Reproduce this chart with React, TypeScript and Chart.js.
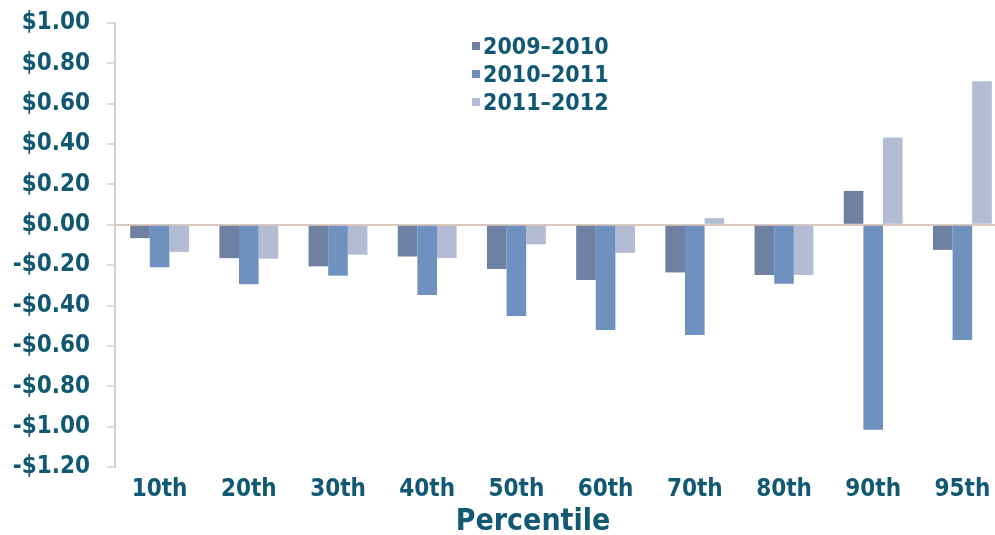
import React, { useEffect, useRef } from "react";
import { Chart, registerables } from "chart.js";

Chart.register(...registerables);

const categories = ["10th", "20th", "30th", "40th", "50th", "60th", "70th", "80th", "90th", "95th"];
const seriesNames = ["2009\u20132010", "2010\u20132011", "2011\u20132012"];
const values0910 = [-0.066, -0.165, -0.206, -0.157, -0.219, -0.274, -0.236, -0.249, 0.168, -0.124];
const values1011 = [-0.21, -0.294, -0.252, -0.348, -0.452, -0.521, -0.546, -0.292, -1.016, -0.571];
const values1112 = [-0.134, -0.168, -0.148, -0.165, -0.097, -0.139, 0.033, -0.249, 0.433, 0.711];
const colors = ["#6e81a3", "#6f91bf", "#b4bcd3"];
const axisTitle = "Percentile";

const FONT = "'DejaVu Sans Condensed', 'DejaVu Sans', sans-serif";
const TEXT = "#115873";

function fmt(v: number): string {
  const r = Math.round(v * 100) / 100;
  if (r < 0) return "-$" + Math.abs(r).toFixed(2);
  return "$" + r.toFixed(2);
}

const titlePlugin = {
  id: "xTitle",
  afterDraw(chart: any) {
    const ctx = chart.ctx;
    ctx.save();
    ctx.font = `bold 30px ${FONT}`;
    ctx.fillStyle = TEXT;
    ctx.textAlign = "center";
    ctx.textBaseline = "middle";
    ctx.fillText(axisTitle, 533, 522);
    ctx.restore();
  },
};

export default function App() {
  const ref = useRef<HTMLCanvasElement | null>(null);

  useEffect(() => {
    if (!ref.current) return;
    const chart = new Chart(ref.current, {
      type: "bar",
      data: {
        labels: categories,
        datasets: [values0910, values1011, values1112].map((d, i) => ({
          label: seriesNames[i],
          data: d,
          backgroundColor: colors[i],
          borderWidth: 0,
          barPercentage: 1,
          categoryPercentage: 0.66,
        })),
      },
      options: {
        animation: false,
        responsive: false,
        maintainAspectRatio: false,
        layout: { padding: { top: 23, right: 3, left: 0, bottom: 0 } },
        plugins: { legend: { display: false }, tooltip: { enabled: false } },
        scales: {
          x: {
            offset: true,
            grid: { display: false, drawTicks: false },
            border: { display: false },
            ticks: {
              color: TEXT,
              font: { family: FONT, size: 24, weight: "bold" },
              padding: 8,
              maxRotation: 0,
              autoSkip: false,
            },
            afterFit: (s: any) => {
              s.height = 68;
              s.paddingLeft = 0;
              s.paddingRight = 0;
            },
          },
          y: {
            min: -1.2,
            max: 1.0,
            grid: {
              drawOnChartArea: true,
              color: (ctx: any) =>
                ctx.tick && Math.abs(ctx.tick.value) < 1e-9 ? "#d9c8bd" : "rgba(0,0,0,0)",
              lineWidth: 2,
              tickColor: "#dcdcdc",
              tickLength: 8,
              drawTicks: true,
            },
            border: { display: true, color: "#d6ceca", width: 2 },
            ticks: {
              stepSize: 0.2,
              color: TEXT,
              font: { family: FONT, size: 24, weight: "bold" },
              padding: 17,
              callback: (v: any) => fmt(Number(v)),
            },
            afterFit: (s: any) => {
              s.width = 115;
              s.paddingTop = 0;
              s.paddingBottom = 0;
            },
          },
        },
      },
      plugins: [titlePlugin],
    });
    return () => chart.destroy();
  }, []);

  const legendTops = [46, 74, 102];

  return (
    <div
      style={{
        position: "absolute",
        left: 0,
        top: 0,
        width: 995,
        height: 535,
        overflow: "hidden",
        background: "#fff",
      }}
    >
      <canvas ref={ref} width={1010} height={535} style={{ display: "block" }} />
      {seriesNames.map((name, i) => (
        <div
          key={name}
          style={{
            position: "absolute",
            left: 472,
            top: legendTops[i] - 14,
            height: 28,
            display: "flex",
            alignItems: "center",
            fontFamily: FONT,
            fontWeight: "bold",
            fontSize: 23,
            color: TEXT,
            whiteSpace: "nowrap",
          }}
        >
          <span
            style={{
              display: "inline-block",
              width: 8,
              height: 8,
              background: colors[i],
              marginRight: 3,
            }}
          />
          {name}
        </div>
      ))}
    </div>
  );
}
